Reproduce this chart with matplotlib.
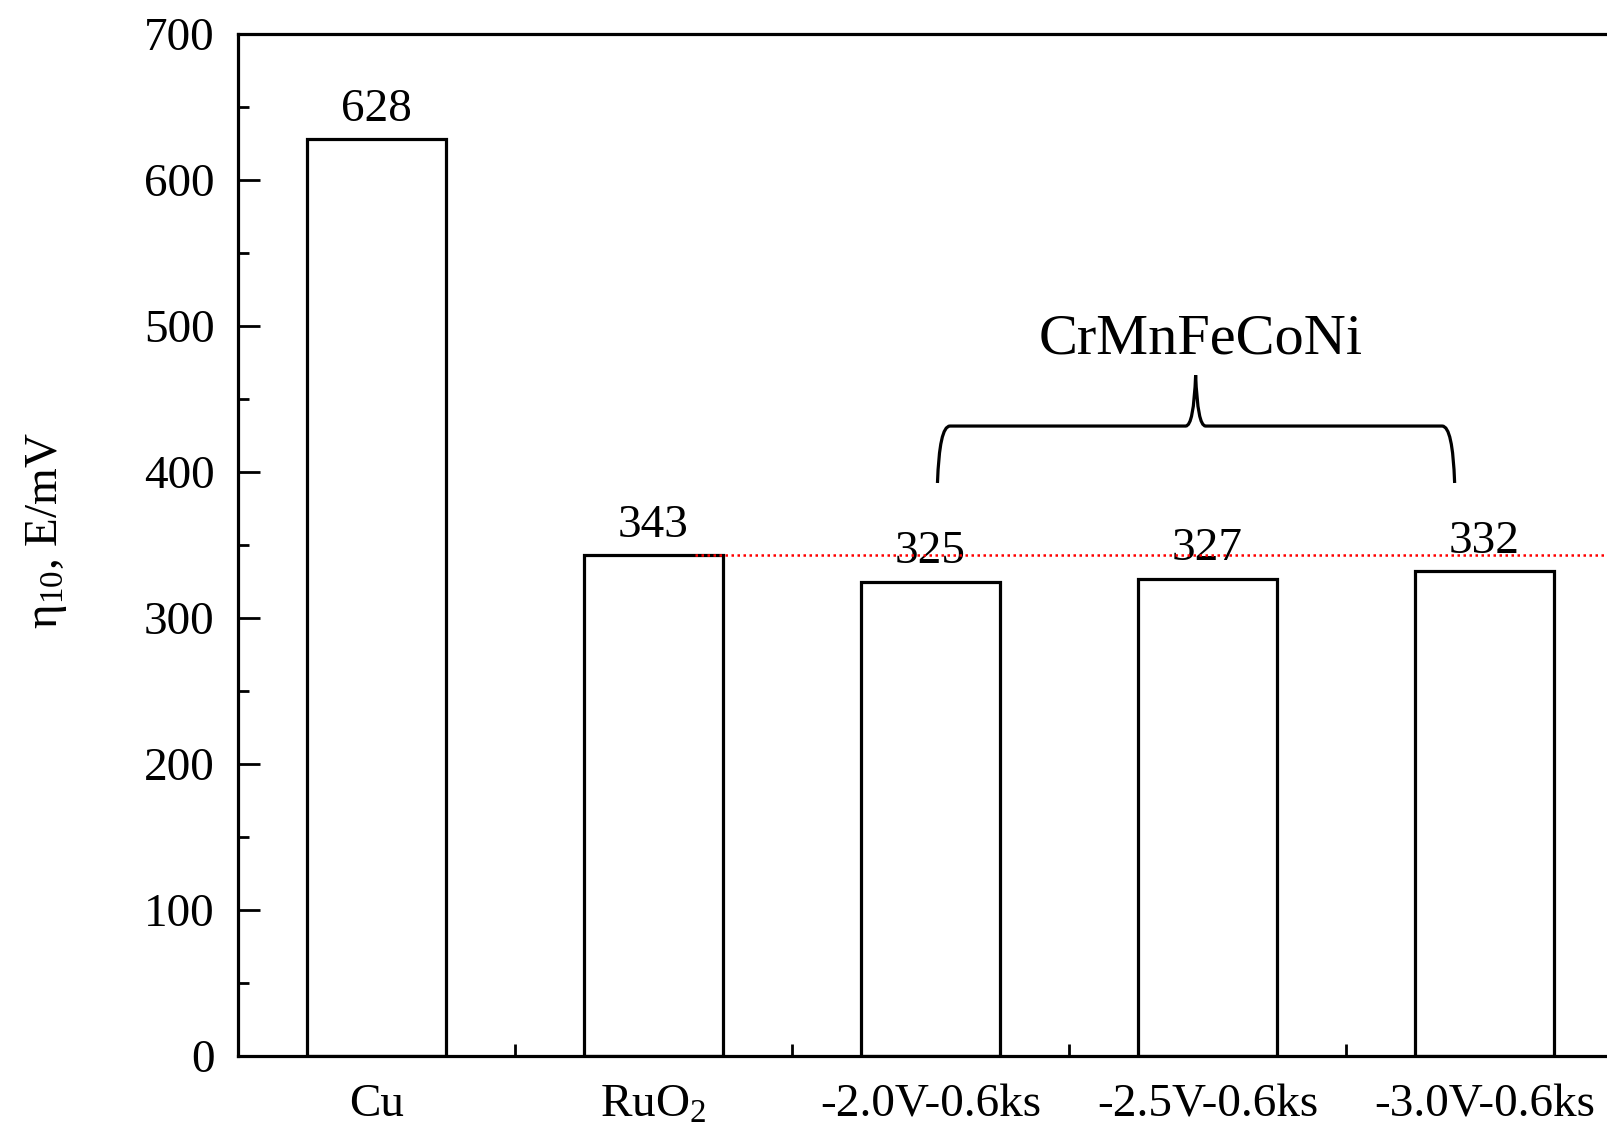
import numpy as np
import matplotlib
matplotlib.use("Agg")
import matplotlib.pyplot as plt
from matplotlib.path import Path
from matplotlib.patches import PathPatch
from matplotlib.ticker import MultipleLocator

# -------------------------------
# Data
# -------------------------------
categories = ["Cu", "RuO$_2$", "-2.0V-0.6ks", "-2.5V-0.6ks", "-3.0V-0.6ks"]
overpotential = [628, 343, 325, 327, 332]   # eta_10 in mV
ref_value = 343                             # RuO2 reference line
group_name = "CrMnFeCoNi"
group_idx = [2, 3, 4]                       # bars covered by the brace

plt.rcParams["font.family"] = ["Liberation Serif", "DejaVu Serif"]
plt.rcParams["mathtext.fontset"] = "custom"
plt.rcParams["mathtext.rm"] = "Liberation Serif"
plt.rcParams["mathtext.it"] = "Liberation Serif:italic"

fs = 34
fig = plt.figure(figsize=(16.07, 11.35), dpi=100)
# right spine sits just past the picture edge, as in the original
ax = fig.add_axes([0.1481, 0.0696, 0.8619, 0.9004])

x = np.arange(len(categories))
bars = ax.bar(x, overpotential, width=0.5, facecolor="white",
              edgecolor="black", linewidth=2.3, zorder=2)
ax.bar_label(bars, labels=[str(v) for v in overpotential], padding=6, fontsize=fs)

# red dotted reference line at the RuO2 value
ax.hlines(ref_value, 1.15, 4.6, colors="red", linestyles=(0, (1, 1.4)),
          linewidth=1.8, zorder=3)

# curly brace over the CrMnFeCoNi bars
x0 = group_idx[0] + 0.025
x1 = group_idx[-1] - 0.108
xm = 2.957
y_tip, y_bar, y_peak = 392.5, 431.5, 466.4
verts = [
    (x0, y_tip), (x0 + 0.007, y_bar), (x0 + 0.045, y_bar),
    (xm - 0.036, y_bar),
    (xm - 0.007, y_bar), (xm, y_peak),
    (xm + 0.007, y_bar), (xm + 0.036, y_bar),
    (x1 - 0.045, y_bar),
    (x1 - 0.007, y_bar), (x1, y_tip),
]
codes = [Path.MOVETO, Path.CURVE3, Path.CURVE3, Path.LINETO,
         Path.CURVE3, Path.CURVE3, Path.CURVE3, Path.CURVE3,
         Path.LINETO, Path.CURVE3, Path.CURVE3]
ax.add_patch(PathPatch(Path(verts, codes), facecolor="none",
                       edgecolor="black", linewidth=2.3, zorder=3))
ax.text(2.975, 481, group_name, ha="center", va="baseline", fontsize=42)

# axes
ax.set_xlim(-0.5, 4.5)
ax.set_ylim(0, 700)
ax.set_xticks(x)
ax.set_xticklabels(categories)
ax.set_xticks(np.arange(-0.5, 5, 1), minor=True)
ax.yaxis.set_major_locator(MultipleLocator(100))
ax.yaxis.set_minor_locator(MultipleLocator(50))

for s in ax.spines.values():
    s.set_linewidth(2.3)
ax.tick_params(axis="both", which="both", direction="in", width=2,
               labelsize=fs, top=False, right=False)
ax.tick_params(axis="x", which="major", length=19, pad=20)
ax.tick_params(axis="x", which="minor", length=9)
ax.tick_params(axis="y", which="major", length=16, pad=17)
ax.tick_params(axis="y", which="minor", length=8)

fig.text(0.029, 0.533, "η$_{10}$, E/mV", rotation=90, ha="center",
         va="center", fontsize=fs)

fig.savefig("out.png", dpi=100)
